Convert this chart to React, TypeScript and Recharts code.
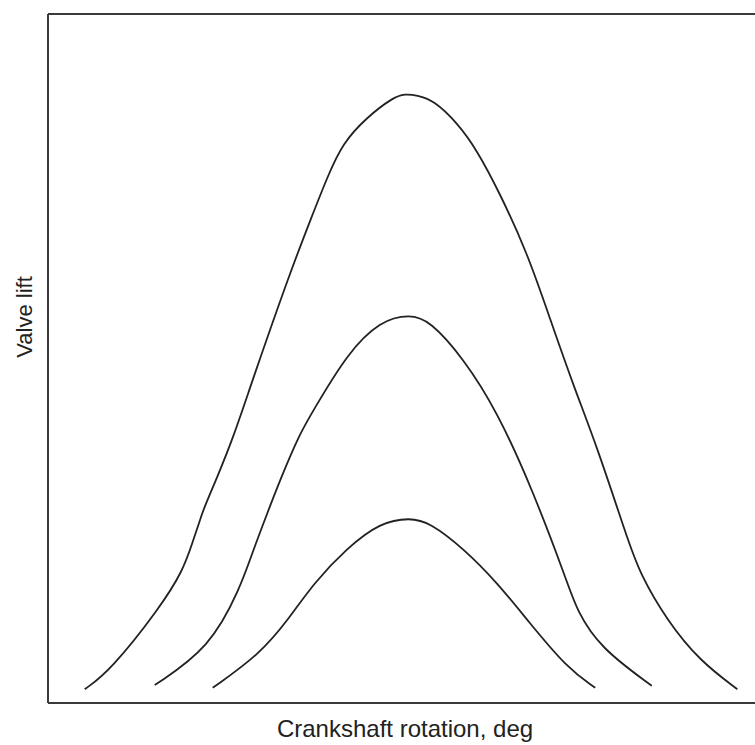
import React from "react";
import { LineChart, Line, XAxis, YAxis } from "recharts";

// crank angle (0-100 across the frame) and valve lift (0-100 up the frame)
const largeAngle = [5.2, 8.8, 15.8, 19.1, 20.5, 21.5, 21.9, 23.9, 26.2, 28.9, 34.2, 37.5, 39.5, 41.7, 45.1, 48.8, 50.5, 52.2, 54.5, 57.9, 60.7, 63.9, 67.8, 71.0, 74.3, 77.7, 81.9, 83.7, 87.6, 92.2, 97.5];
const largeLift = [2.0, 4.7, 13.8, 19.2, 23.5, 26.5, 27.9, 32.7, 38.5, 46.8, 62.4, 71.1, 76.3, 81.3, 85.0, 87.9, 88.4, 88.2, 87.5, 84.2, 80.2, 74.0, 65.3, 55.8, 46.1, 37.1, 24.0, 18.8, 11.9, 6.1, 2.0];

const mediumAngle = [15.1, 22.9, 27.2, 29.0, 31.0, 32.8, 35.6, 37.5, 42.3, 47.0, 51.2, 54.0, 58.7, 63.5, 68.6, 73.4, 74.8, 78.1, 85.4];
const mediumLift = [2.6, 8.0, 16.7, 22.1, 27.5, 32.3, 39.1, 42.4, 50.7, 55.5, 56.4, 55.5, 50.1, 42.4, 30.8, 17.7, 13.4, 8.0, 2.5];

const smallAngle = [23.3, 30.0, 34.2, 37.5, 42.3, 47.0, 51.2, 54.0, 58.7, 63.6, 67.9, 73.4, 77.4];
const smallLift = [2.2, 7.1, 12.4, 17.3, 22.5, 26.2, 26.9, 26.2, 22.5, 17.4, 11.9, 5.1, 2.2];

const xTitle = "Crankshaft rotation, deg";
const yTitle = "Valve lift";

const toPoints = (angle: number[], lift: number[]) =>
  angle.map((a, i) => ({ angle: a, lift: lift[i] }));

const curves = [
  { key: "large", data: toPoints(largeAngle, largeLift) },
  { key: "medium", data: toPoints(mediumAngle, mediumLift) },
  { key: "small", data: toPoints(smallAngle, smallLift) }
];

const frameColor = "#3a3a3a";
const inkColor = "#222";
const font = "'Liberation Sans', Arial, sans-serif";

const App: React.FC = () => {
  return (
    <div style={{ position: "absolute", left: 0, top: 0, width: 755, height: 745 }}>
      <LineChart
        width={755}
        height={745}
        margin={{ top: 13, right: 0, bottom: 41, left: 47 }}
      >
        <XAxis
          xAxisId={0}
          type="number"
          dataKey="angle"
          domain={[0, 100]}
          height={1}
          tick={false}
          tickLine={false}
          axisLine={{ stroke: frameColor, strokeWidth: 2 }}
          allowDataOverflow
        />
        <XAxis
          xAxisId="top"
          orientation="top"
          type="number"
          domain={[0, 100]}
          height={1}
          tick={false}
          tickLine={false}
          axisLine={{ stroke: frameColor, strokeWidth: 2 }}
        />
        <YAxis
          type="number"
          domain={[0, 100]}
          width={1}
          tick={false}
          tickLine={false}
          axisLine={{ stroke: frameColor, strokeWidth: 2 }}
          allowDataOverflow
        />
        {curves.map((c) => (
          <Line
            key={c.key}
            data={c.data}
            dataKey="lift"
            type="basis"
            stroke={inkColor}
            strokeWidth={1.8}
            dot={false}
            activeDot={false}
            isAnimationActive={false}
          />
        ))}
        <text x={405} y={737} textAnchor="middle" fontSize={24} fontFamily={font} fill={inkColor}>
          {xTitle}
        </text>
        <text
          x={0}
          y={0}
          transform="translate(32,317) rotate(-90)"
          textAnchor="middle"
          fontSize={22}
          fontFamily={font}
          fill={inkColor}
        >
          {yTitle}
        </text>
      </LineChart>
    </div>
  );
};

export default App;
